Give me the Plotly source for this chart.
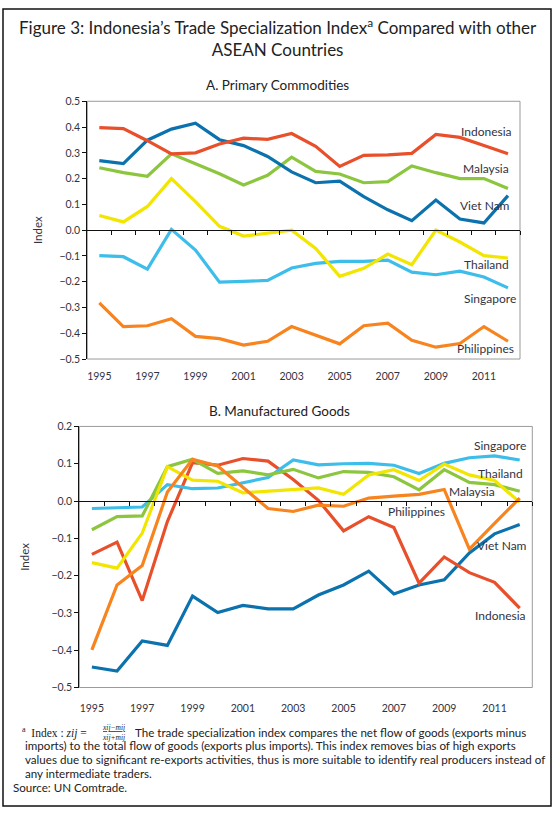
import plotly.graph_objects as go

# Years on the x axis (categories), labels shown every other year
years = list(range(1995, 2013))
tick_years = [1995, 1997, 1999, 2001, 2003, 2005, 2007, 2009, 2011]

# A. Primary commodities
indonesia_a = [0.398, 0.394, 0.347, 0.296, 0.300, 0.334, 0.357, 0.352, 0.375, 0.325, 0.247, 0.290, 0.292, 0.298, 0.371, 0.360, 0.328, 0.296]
vietnam_a = [0.270, 0.258, 0.349, 0.392, 0.415, 0.351, 0.328, 0.286, 0.226, 0.184, 0.190, 0.130, 0.079, 0.037, 0.117, 0.043, 0.028, 0.134]
malaysia_a = [0.242, 0.223, 0.209, 0.296, 0.258, 0.219, 0.175, 0.213, 0.283, 0.228, 0.218, 0.184, 0.188, 0.249, 0.223, 0.200, 0.200, 0.162]
thailand_a = [0.057, 0.032, 0.092, 0.200, 0.111, 0.015, -0.023, -0.013, 0.000, -0.071, -0.179, -0.148, -0.093, -0.134, 0.000, -0.046, -0.099, -0.108]
singapore_a = [-0.099, -0.103, -0.151, 0.003, -0.077, -0.202, -0.199, -0.195, -0.147, -0.129, -0.121, -0.121, -0.116, -0.163, -0.173, -0.159, -0.182, -0.224]
philippines_a = [-0.282, -0.374, -0.371, -0.344, -0.412, -0.421, -0.446, -0.431, -0.374, -0.406, -0.441, -0.371, -0.361, -0.427, -0.454, -0.440, -0.374, -0.431]

# B. Manufactured goods
singapore_b = [-0.020, -0.018, -0.016, 0.044, 0.033, 0.035, 0.050, 0.063, 0.110, 0.097, 0.100, 0.101, 0.096, 0.074, 0.101, 0.116, 0.121, 0.110]
malaysia_b = [-0.077, -0.042, -0.040, 0.092, 0.112, 0.074, 0.081, 0.070, 0.085, 0.062, 0.079, 0.077, 0.065, 0.030, 0.084, 0.050, 0.044, 0.026]
thailand_b = [-0.165, -0.180, -0.086, 0.092, 0.056, 0.053, 0.022, 0.026, 0.031, 0.035, 0.018, 0.070, 0.084, 0.055, 0.099, 0.070, 0.055, -0.003]
philippines_b = [-0.399, -0.225, -0.173, 0.024, 0.112, 0.094, 0.037, -0.020, -0.028, -0.011, -0.014, 0.008, 0.013, 0.018, 0.031, -0.129, -0.060, 0.008]
indonesia_b = [-0.143, -0.110, -0.267, -0.055, 0.103, 0.096, 0.114, 0.107, 0.058, 0.002, -0.080, -0.042, -0.071, -0.220, -0.150, -0.192, -0.218, -0.287]
vietnam_b = [-0.445, -0.456, -0.375, -0.387, -0.255, -0.299, -0.280, -0.289, -0.289, -0.252, -0.225, -0.188, -0.249, -0.225, -0.211, -0.139, -0.088, -0.063]

colors = {
    "Indonesia": "#E8502B",
    "Viet Nam": "#0B72AE",
    "Malaysia": "#8CC63F",
    "Thailand": "#F2E500",
    "Singapore": "#3DBDEA",
    "Philippines": "#F7841F",
}

W, H = 557, 816
FONT = "Lato"
TXT = "#33333f"

# plot areas in pixels (left, right, top, bottom)
boxA = (87.3, 520.0, 96.7, 358.3)
boxB = (79.3, 532.3, 426.7, 691.7)
rangeA = [-0.5, 0.5]
rangeB = [-0.5, 0.2]


def xdom(b):
    return [b[0] / W, b[1] / W]


def ydom(b):
    return [1 - b[3] / H, 1 - b[2] / H]


def zero_pos(b, rng):
    d = ydom(b)
    return d[0] + (0 - rng[0]) / (rng[1] - rng[0]) * (d[1] - d[0])


xi = list(range(len(years)))

fig = go.Figure()

seriesA = [("Philippines", philippines_a), ("Singapore", singapore_a), ("Thailand", thailand_a),
           ("Malaysia", malaysia_a), ("Viet Nam", vietnam_a), ("Indonesia", indonesia_a)]
seriesB = [("Viet Nam", vietnam_b), ("Indonesia", indonesia_b), ("Singapore", singapore_b),
           ("Malaysia", malaysia_b), ("Thailand", thailand_b), ("Philippines", philippines_b)]

for name, vals in seriesA:
    fig.add_trace(go.Scatter(x=xi, y=vals, mode="lines", name=name,
                             line=dict(color=colors[name], width=3.2),
                             xaxis="x", yaxis="y", showlegend=False))
for name, vals in seriesB:
    fig.add_trace(go.Scatter(x=xi, y=vals, mode="lines", name=name,
                             line=dict(color=colors[name], width=3.2),
                             xaxis="x2", yaxis="y2", showlegend=False))

# empty traces so the zero-line axes (with the between-year ticks) get drawn
fig.add_trace(go.Scatter(x=[None], y=[None], xaxis="x3", yaxis="y", showlegend=False, hoverinfo="skip"))
fig.add_trace(go.Scatter(x=[None], y=[None], xaxis="x4", yaxis="y2", showlegend=False, hoverinfo="skip"))

tickpos = [years.index(y) for y in tick_years]
boundaries = [i + 0.5 for i in range(len(years))]

common_x = dict(range=[-0.5, len(years) - 0.5], tickmode="array", tickvals=tickpos,
                ticktext=[str(y) for y in tick_years], showgrid=False, zeroline=False,
                showline=False, ticks="", tickfont=dict(family=FONT, size=10.5, color=TXT))
zero_x = dict(range=[-0.5, len(years) - 0.5], tickmode="array", tickvals=boundaries,
              showticklabels=False, ticks="outside", ticklen=4, tickcolor="#111", tickwidth=1,
              showline=True, linecolor="#111", linewidth=1, showgrid=False, zeroline=False,
              anchor="free", side="bottom")
common_y = dict(dtick=0.1, tickformat=".1f", showgrid=False, zeroline=False, showline=True,
                linecolor="#111", linewidth=1, ticks="outside", ticklen=4, tickcolor="#111",
                tickfont=dict(family=FONT, size=10.5, color=TXT))
ytitle_font = dict(family=FONT, size=11.5, color=TXT)

fig.update_layout(
    width=W, height=H,
    margin=dict(l=0, r=0, t=0, b=0),
    paper_bgcolor="white", plot_bgcolor="white",
    font=dict(family=FONT, color=TXT),
    xaxis=dict(common_x, domain=xdom(boxA), anchor="y", ticklabelstandoff=9),
    yaxis=dict(common_y, domain=ydom(boxA), range=rangeA, anchor="x",
               title=dict(text="Index", font=ytitle_font, standoff=14)),
    xaxis2=dict(common_x, domain=xdom(boxB), anchor="y2", ticklabelstandoff=13),
    yaxis2=dict(common_y, domain=ydom(boxB), range=rangeB, anchor="x2",
                title=dict(text="Index", font=ytitle_font, standoff=19)),
    xaxis3=dict(zero_x, overlaying="x", position=zero_pos(boxA, rangeA)),
    xaxis4=dict(zero_x, overlaying="x2", position=zero_pos(boxB, rangeB)),
)

# gray boxes around plot areas and the outer frame
for xr, yr in [("x", "y"), ("x2", "y2")]:
    fig.add_shape(type="rect", xref=xr + " domain", yref=yr + " domain", x0=0, x1=1, y0=0, y1=1,
                  line=dict(color="#9a9a9a", width=1), layer="below")
fig.add_shape(type="rect", xref="paper", yref="paper", x0=3 / W, x1=551 / W, y0=1 - 812 / H, y1=1 - 3 / H,
              line=dict(color="#111", width=1.5))

# titles
fig.add_annotation(text="Figure 3: Indonesia’s Trade Specialization Index<sup>a</sup> Compared with other<br>ASEAN Countries",
                   xref="paper", yref="paper", x=278 / W, y=1 - 32 / H, xanchor="center", yanchor="middle",
                   showarrow=False, font=dict(family=FONT, size=17, color="#222"), align="center")
fig.add_annotation(text="A. Primary Commodities", xref="paper", yref="paper", x=277 / W, y=1 - 80.5 / H,
                   yanchor="middle", showarrow=False, font=dict(family=FONT, size=13.5, color="#222"))
fig.add_annotation(text="B. Manufactured Goods", xref="paper", yref="paper", x=279 / W, y=1 - 411 / H,
                   yanchor="middle", showarrow=False, font=dict(family=FONT, size=13.5, color="#222"))

# line labels
labelsA = [("Indonesia", 16.1, 0.381), ("Malaysia", 16.1, 0.238), ("Viet Nam", 16.06, 0.094),
           ("Thailand", 16.1, -0.134), ("Singapore", 16.27, -0.267), ("Philippines", 16.06, -0.460)]
labelsB = [("Singapore", 16.22, 0.149), ("Thailand", 16.22, 0.075), ("Malaysia", 15.1, 0.026),
           ("Philippines", 12.9, -0.027), ("Viet Nam", 16.28, -0.120), ("Indonesia", 16.25, -0.308)]
for name, x, y in labelsA:
    fig.add_annotation(text=name, x=x, y=y, xref="x", yref="y", showarrow=False, yanchor="middle",
                       font=dict(family=FONT, size=12, color=TXT))
for name, x, y in labelsB:
    fig.add_annotation(text=name, x=x, y=y, xref="x2", yref="y2", showarrow=False, yanchor="middle",
                       font=dict(family=FONT, size=12, color=TXT))

# footnote
foot_size = 11.6
fig.add_annotation(text="<sup>a</sup>  Index : <i>zij</i> =", xref="paper", yref="paper",
                   x=20 / W, y=1 - 737 / H, xanchor="left", yanchor="middle", showarrow=False,
                   font=dict(family="Liberation Serif", size=11.5, color="#222"))
fig.add_annotation(text="<u><i>xij−mij</i></u><br><i>xij+mij</i>", xref="paper", yref="paper",
                   x=113 / W, y=1 - 737 / H, xanchor="center", yanchor="middle", showarrow=False,
                   font=dict(family="Liberation Serif", size=7.5, color="#222"))
fig.add_annotation(text="The trade specialization index compares the net flow of goods (exports minus",
                   xref="paper", yref="paper", x=133 / W, y=1 - 737 / H, xanchor="left", yanchor="middle",
                   showarrow=False, font=dict(family=FONT, size=foot_size, color="#222"))
foot_lines = [
    ("imports) to the total flow of goods (exports plus imports). This index removes bias of high exports", 23, 751),
    ("values due to significant re-exports activities, thus is more suitable to identify real producers instead of", 23, 765),
    ("any intermediate traders.", 23, 779),
    ("Source: UN Comtrade.", 11, 793),
]
for t, x, y in foot_lines:
    fig.add_annotation(text=t, xref="paper", yref="paper", x=x / W, y=1 - y / H, xanchor="left",
                       yanchor="middle", showarrow=False, font=dict(family=FONT, size=foot_size, color="#222"))

# drop the page's default body margin so the figure sits at the window's top-left corner
fig.write_html("out.html", config={"displayModeBar": False},
               post_script="document.body.style.margin='0';")
